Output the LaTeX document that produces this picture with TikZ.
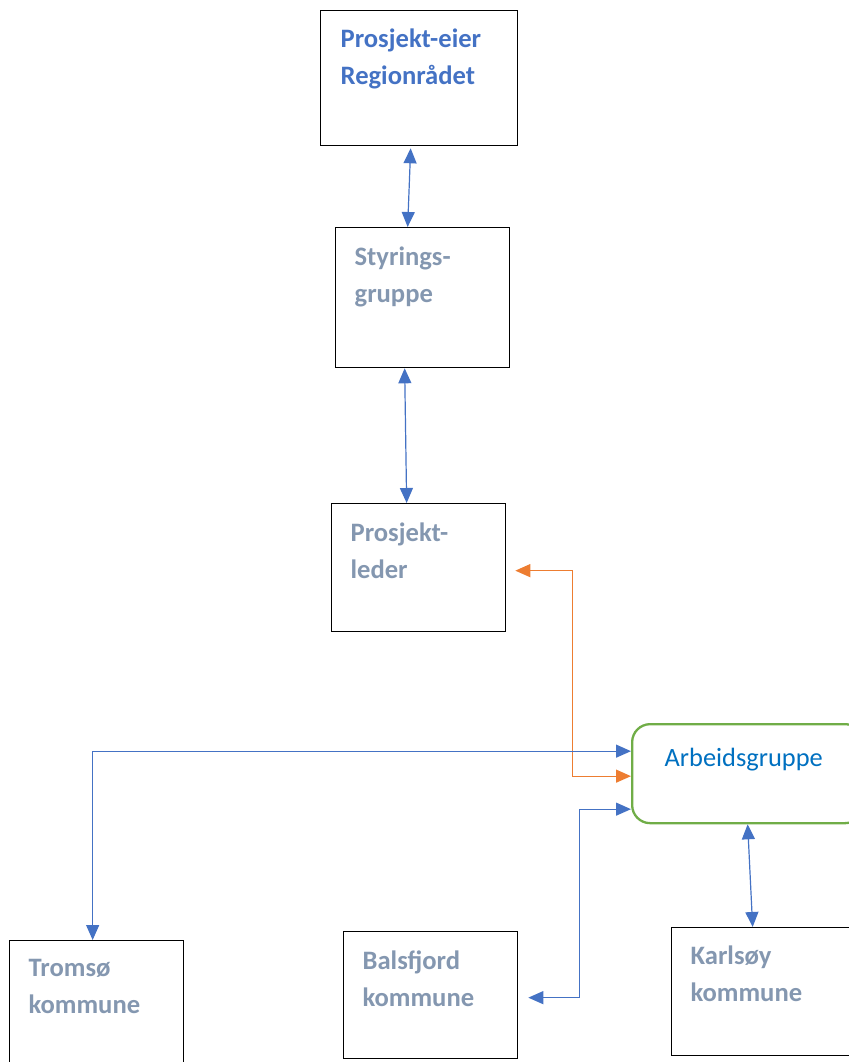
\documentclass[tikz,border=0pt]{standalone}
\usepackage{fontspec}
\setmainfont{Carlito}
\usetikzlibrary{arrows.meta}

\definecolor{pblue}{HTML}{4472C4}
\definecolor{pgray}{HTML}{8497B0}
\definecolor{parb}{HTML}{0070C0}
\definecolor{pgreen}{HTML}{70AD47}
\definecolor{porange}{HTML}{ED7D31}

\begin{document}
\begin{tikzpicture}[
            x = 1pt, y = 1pt, % one unit per pixel
            > = {Triangle[length=15pt, width=13pt]}, % arrow head style
            line width = 1.3pt
        ]

        \useasboundingbox (0,0) rectangle (848,-1062);

        \tikzstyle{box}=[
            draw = black,
            line width = 1.3pt,
            anchor = north west,
            inner sep = 0pt,
            minimum width = 174pt
        ]
        % base of a two-line node is the last line
        \tikzstyle{txt}=[
            anchor = base west,
            align = left,
            inner sep = 0pt,
            text = pgray,
            font = \fontsize{26.6}{37}\selectfont\bfseries
        ]
        \tikzstyle{link}=[<->, draw = pblue, line width = 1.2pt]

        \node[box, minimum width=197pt, minimum height=135pt] (eier) at (320,-10) {};
        \node[box, minimum height=140pt] (styr) at (335,-227) {};
        \node[box, minimum height=128pt] (leder) at (331,-503) {};
        \node[box, draw=pgreen, line width=2.3pt, rounded corners=18pt,
              minimum width=231pt, minimum height=99pt] (arb) at (631,-723) {};
        \node[box, minimum height=140pt] (tromso) at (9,-940) {};
        \node[box, minimum height=127pt] (bals) at (343,-931) {};
        \node[box, minimum width=190pt, minimum height=128pt] (karl) at (671,-927) {};

        \node[txt, text=pblue] (eier-txt) at ([shift={(20,-75)}]eier.north west) {Prosjekt-eier\\Regionrådet};
        \node[txt] (styr-txt) at ([shift={(19,-75)}]styr.north west) {Styrings-\\gruppe};
        \node[txt] (leder-txt) at ([shift={(19,-75)}]leder.north west) {Prosjekt-\\leder};
        \node[txt, text=parb, font=\fontsize{26.4}{37}\selectfont] (arb-txt)
            at ([shift={(33,-43)}]arb.north west) {Arbeidsgruppe};
        \node[txt] (tromso-txt) at ([shift={(19,-73)}]tromso.north west) {Tromsø\\kommune};
        \node[txt] (bals-txt) at ([shift={(19,-75)}]bals.north west) {Balsfjord\\kommune};
        \node[txt] (karl-txt) at ([shift={(19,-74)}]karl.north west) {Karlsøy\\kommune};

        \draw[link] ([xshift=-8.5, yshift=-2]eier.south) -- ([xshift=-15]styr.north);
        \draw[link] ([xshift=-18]styr.south) -- ([xshift=-12]leder.north);
        \draw[link, draw=porange] ([xshift=9, yshift=-3]leder.east) -- ++(57,0) |- ([yshift=-2.5]arb.west);
        \draw[link] ([xshift=-4]tromso.north) |- ([yshift=22.5]arb.west);
        \draw[link] ([xshift=10, yshift=-2.5]bals.east) -- ++(51,0) |- ([yshift=-35.5]arb.west);
        \draw[link] ([xshift=-14]karl.north) -- (arb.south);

    \end{tikzpicture}
\end{document}
